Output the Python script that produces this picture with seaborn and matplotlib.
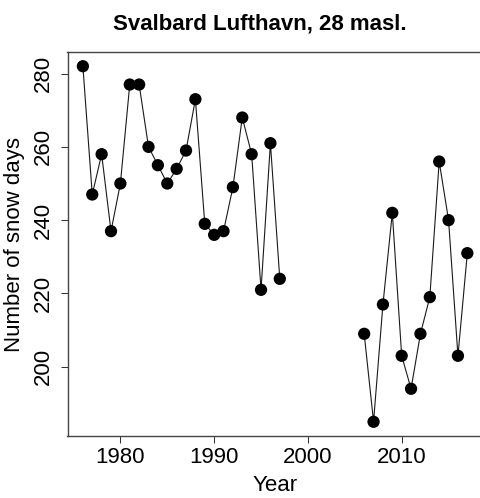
import matplotlib
matplotlib.use("Agg")
import matplotlib.pyplot as plt
import seaborn as sns
import pandas as pd

# Snow days per year at Svalbard Lufthavn (record has a gap 1998-2005)
years = [1976, 1977, 1978, 1979, 1980, 1981, 1982, 1983, 1984, 1985, 1986,
         1987, 1988, 1989, 1990, 1991, 1992, 1993, 1994, 1995, 1996, 1997,
         2006, 2007, 2008, 2009, 2010, 2011, 2012, 2013, 2014, 2015, 2016, 2017]
snow_days = [282, 247, 258, 237, 250, 277, 277, 260, 255, 250, 254,
             259, 273, 239, 236, 237, 249, 268, 258, 221, 261, 224,
             209, 185, 217, 242, 203, 194, 209, 219, 256, 240, 203, 231]
segment = [0] * 22 + [1] * 12

x_ticks = [1980, 1990, 2000, 2010]
y_ticks = [200, 220, 240, 260, 280]

df = pd.DataFrame({"year": years, "days": snow_days, "segment": segment})

sns.set_style("white")
plt.rcParams["font.family"] = ["Liberation Sans", "DejaVu Sans"]
plt.rcParams["text.color"] = "black"
plt.rcParams["axes.labelcolor"] = "black"

W, H = 481, 498
fig = plt.figure(figsize=(W / 100, H / 100), dpi=100)
left, right, top, bottom = 67.5, 482.7, 52.0, 436.0
ax = fig.add_axes([left / W, 1 - bottom / H, (right - left) / W, (bottom - top) / H])

sns.lineplot(data=df, x="year", y="days", units="segment", estimator=None,
             color="#1a1a1a", linewidth=0.8, ax=ax, legend=False)
sns.scatterplot(data=df, x="year", y="days", color="black", s=78,
                edgecolor="none", ax=ax, legend=False, zorder=3)

xr = max(years) - min(years)
yr = max(snow_days) - min(snow_days)
ax.set_xlim(min(years) - 0.04 * xr, max(years) + 0.04 * xr)
ax.set_ylim(min(snow_days) - 0.04 * yr, max(snow_days) + 0.04 * yr)

ax.set_xticks(x_ticks)
ax.set_yticks(y_ticks)
ax.tick_params(axis="both", direction="out", length=5, width=0.75,
               color="#333333", labelsize=16, labelcolor="black",
               left=True, bottom=True)
ax.tick_params(axis="x", pad=3)
ax.tick_params(axis="y", pad=5)
for lab in ax.get_yticklabels():
    lab.set_rotation(90)
    lab.set_va("center")

for sp in ax.spines.values():
    sp.set_visible(True)
    sp.set_color("#444444")
    sp.set_linewidth(1.0)

ax.set_xlabel("Year", fontsize=16, labelpad=5, color="black")
ax.set_ylabel("")
fig.text(15 / W, 1 - 244 / H, "Number of snow days", rotation=90,
         ha="center", va="center", fontsize=16, color="black")
fig.text(260 / W, 1 - 29 / H, "Svalbard Lufthavn, 28 masl.",
         ha="center", va="baseline", fontsize=16, fontweight="bold",
         color="black")

fig.savefig("out.png", dpi=100)
